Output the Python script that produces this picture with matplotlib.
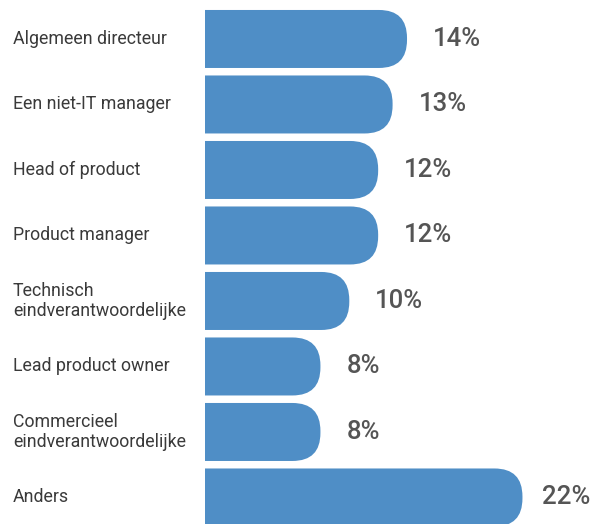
import matplotlib
matplotlib.use('Agg')
import matplotlib.pyplot as plt
from matplotlib.patches import FancyBboxPatch
from matplotlib.transforms import blended_transform_factory

# Data
categories = ['Algemeen directeur', 'Een niet-IT manager', 'Head of product', 'Product manager',
              'Technisch\neindverantwoordelijke', 'Lead product owner',
              'Commercieel\neindverantwoordelijke', 'Anders']
values = [14, 13, 12, 12, 10, 8, 8, 22]

bar_color = '#4f8ec6'
plt.rcParams['font.family'] = ['Roboto', 'DejaVu Sans']

fig = plt.figure(figsize=(6.05, 5.24), dpi=100, facecolor='white')
ax = fig.add_axes([205 / 605, 0, 400 / 605, 1])
ax.set_xlim(0, 400 / 14.43)
ax.set_ylim(7.405, -0.595)
ax.axis('off')

# pixels per data unit, used to keep the rounded corners circular
px_x = 14.43
px_y = 65.5
bar_h = 58 / px_y
radius = 28 / px_x
# start the box left of the axes so the clipped left side stays square
lead = 2 * radius

label_tf = blended_transform_factory(fig.transFigure, ax.transData)

for i, (cat, val) in enumerate(zip(categories, values)):
    box = FancyBboxPatch((-lead, i - bar_h / 2), val + lead, bar_h,
                         boxstyle='round,pad=0,rounding_size=%f' % radius,
                         mutation_aspect=px_x / px_y,
                         facecolor=bar_color, edgecolor='none')
    ax.add_patch(box)
    # value label a little right of the bar end, kept inside the figure
    xpos = min(val + 26 / px_x, 337 / px_x)
    ax.text(xpos, i, '%d%%' % val, va='center', ha='left',
            fontsize=18.5, fontweight='medium', color='#555555')
    ax.text(13 / 605, i, cat, transform=label_tf, va='center', ha='left',
            fontsize=12.8, color='#3a3a3a', linespacing=1.2)

fig.savefig('out.png', dpi=100, facecolor='white')
